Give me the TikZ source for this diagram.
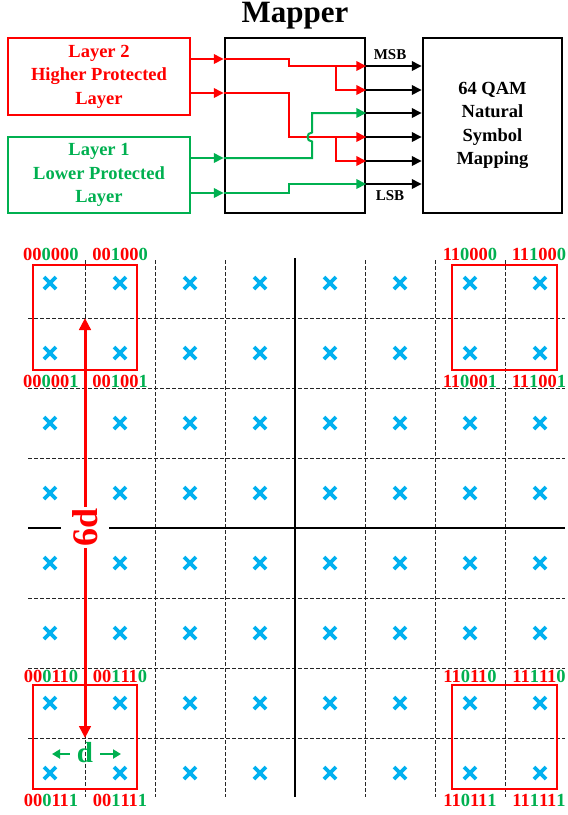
\documentclass[tikz,border=0pt]{standalone}
\usepackage{fontspec}
\setmainfont{Liberation Serif}
\usetikzlibrary{arrows.meta}
\definecolor{rd}{RGB}{255,0,0}
\definecolor{gn}{RGB}{0,176,80}
\definecolor{bl}{RGB}{0,176,240}
\newcommand\bitlab[6]{\textcolor{rd}{#1#2}\textcolor{gn}{#3}\textcolor{rd}{#4#5}\textcolor{gn}{#6}}
\begin{document}
\begin{tikzpicture}[x=1pt,y=-1pt,
  box/.style={draw,line width=2pt,align=center,inner sep=0pt,
    font=\bfseries\fontsize{18.5}{23.5}\selectfont},
  flow/.style={line width=2pt,-{Triangle[length=10pt,width=9.5pt]}},
  gridl/.style={line width=0.9pt,black!85,dash pattern=on 3.5pt off 2.5pt},
  axis/.style={line width=2pt,black},
  crossm/.style={line width=3.6pt,bl},
  rbox/.style={draw=rd,line width=2pt},
  lab/.style={inner sep=0pt,font=\bfseries\fontsize{18.5}{18.5}\selectfont},
  small/.style={inner sep=0pt,font=\bfseries\fontsize{15}{15}\selectfont}]
\useasboundingbox (0,0) rectangle (568,815);

% ---------- top block diagram ----------
\node[font=\bfseries\fontsize{31}{31}\selectfont,inner sep=0pt] (title) at (295,16) {Mapper};
\node[box,draw=rd,text=rd,minimum width=182pt,minimum height=77pt] (L2) at (99,76.5) {Layer 2\\Higher Protected\\Layer};
\node[box,draw=gn,text=gn,minimum width=182pt,minimum height=76pt] (L1) at (99,175) {Layer 1\\Lower Protected\\Layer};
\node[box,line width=2.5pt,minimum width=140pt,minimum height=175pt] (M) at (295,125.5) {};
\node[box,line width=2.5pt,minimum width=139pt,minimum height=175pt] (Q) at (492.5,125.5) {64 QAM\\Natural\\Symbol\\Mapping};

\coordinate (i1) at (0,59);
\coordinate (i2) at (0,93);
\coordinate (i3) at (0,158);
\coordinate (i4) at (0,193);
\coordinate (o1) at (0,66);
\coordinate (o2) at (0,90);
\coordinate (o3) at (0,113);
\coordinate (o4) at (0,137);
\coordinate (o5) at (0,161);
\coordinate (o6) at (0,184);

\draw[flow,rd] (L2.east |- i1) -- (M.west |- i1);
\draw[flow,rd] (L2.east |- i2) -- (M.west |- i2);
\draw[flow,gn] (L1.east |- i3) -- (M.west |- i3);
\draw[flow,gn] (L1.east |- i4) -- (M.west |- i4);

\draw[flow,rd] (M.west |- i1) -- (289,59) -- (289,66) -- (M.east |- o1);
\draw[flow,rd] (336,66) -- (336,90) -- (M.east |- o2);
\draw[flow,rd] (M.west |- i2) -- (289,93) -- (289,137) -- (M.east |- o4);
\draw[flow,rd] (336,137) -- (336,161) -- (M.east |- o5);
\draw[flow,gn] (M.west |- i3) -- (312,158) -- (312,141.5) .. controls (306,141.5) and (306,132.5) .. (312,132.5) -- (312,113) -- (M.east |- o3);
\draw[flow,gn] (M.west |- i4) -- (289,193) -- (289,184) -- (M.east |- o6);

\foreach \o in {o1,o2,o3,o4,o5,o6}
  \draw[flow,black] (M.east |- \o) -- (Q.west |- \o);

\node[small] (msb) at (390,55) {MSB};
\node[small] (lsb) at (390,196) {LSB};

% ---------- constellation ----------
\foreach \y in {318,388,458,598,668,738}
  \draw[gridl] (28,\y) -- (565,\y);
\foreach \x in {85,155,225,365,435,505}
  \draw[gridl] (\x,260) -- (\x,797);
\draw[axis] (28,528) -- (565,528);
\draw[axis] (295,258) -- (295,797);

\foreach \x in {50,120,...,540}
  \foreach \y in {283,353,...,773} {
    \draw[crossm] (\x-6,\y-6) -- (\x+6,\y+6);
    \draw[crossm] (\x-6,\y+6) -- (\x+6,\y-6);
  }

\draw[rbox] (33,265) rectangle (137,370);
\draw[rbox] (452,265) rectangle (557,370);
\draw[rbox] (33,685) rectangle (137,789);
\draw[rbox] (452,685) rectangle (557,789);

\node[lab] (a1) at (51,254) {\bitlab000000};
\node[lab] (a2) at (120,254) {\bitlab001000};
\node[lab] (a3) at (51,381) {\bitlab000001};
\node[lab] (a4) at (120,381) {\bitlab001001};
\node[lab] (b1) at (470,254) {\bitlab110000};
\node[lab] (b2) at (539,254) {\bitlab111000};
\node[lab] (b3) at (470,381) {\bitlab110001};
\node[lab] (b4) at (539,381) {\bitlab111001};
\node[lab] (c1) at (51,676.5) {\bitlab000110};
\node[lab] (c2) at (120,676.5) {\bitlab001110};
\node[lab] (c3) at (51,800) {\bitlab000111};
\node[lab] (c4) at (120,800) {\bitlab001111};
\node[lab] (d1) at (470,676.5) {\bitlab110110};
\node[lab] (d2) at (539,676.5) {\bitlab111110};
\node[lab] (d3) at (470,800) {\bitlab110111};
\node[lab] (d4) at (539,800) {\bitlab111111};

% 6d arrow
\coordinate (t6) at (85,318);
\coordinate (b6) at (85,738);
\draw[rd,line width=3pt,{Triangle[length=12pt,width=11.5pt]}-{Triangle[length=12pt,width=11.5pt]}] (t6) -- (b6);
\node[fill=white,text=rd,rotate=90,inner sep=0pt,minimum width=41pt,minimum height=48pt,
  font=\bfseries\fontsize{36}{36}\selectfont] (six) at (85,527.5) {6d};

% d arrows
\node[text=gn,inner sep=0pt,font=\bfseries\fontsize{29}{29}\selectfont] (dl) at (85,753) {d};
\coordinate (dL) at (52,754);
\coordinate (dR) at (121,754);
\draw[gn,line width=2.5pt,-{Triangle[length=8pt,width=9pt]}] ([xshift=-7pt]dl.west |- dL) -- (dL);
\draw[gn,line width=2.5pt,-{Triangle[length=8pt,width=9pt]}] ([xshift=7pt]dl.east |- dR) -- (dR);
\end{tikzpicture}
\end{document}
